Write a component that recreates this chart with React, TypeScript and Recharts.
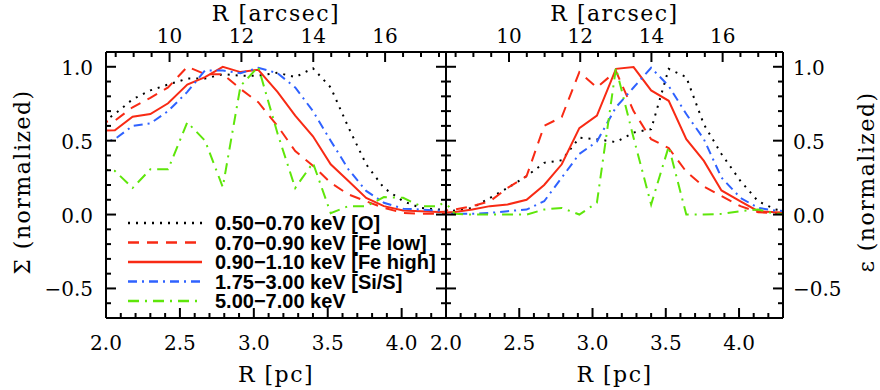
import React from "react";
import { LineChart, Line, XAxis, YAxis, Legend } from "recharts";

// radius of each profile bin, pc (bins are 0.5 arcsec apart)
const radiusPc = [
  1.94, 2.06, 2.18, 2.3, 2.42, 2.55, 2.67, 2.79, 2.91, 3.03, 3.16, 3.28, 3.4, 3.52,
  3.64, 3.76, 3.88, 4.01, 4.13, 4.25, 4.37,
];

// surface brightness, normalized (left panel)
const sigmaO = [0.6, 0.68, 0.78, 0.84, 0.88, 0.92, 0.92, 0.95, 0.94, 0.94, 0.96, 0.93, 0.99, 0.86, 0.59, 0.34, 0.18, 0.09, 0.045, 0.034, 0.03];
const sigmaFeLow = [0.62, 0.635, 0.726, 0.79, 0.86, 1.0, 0.95, 0.95, 0.85, 0.76, 0.6, 0.43, 0.33, 0.215, 0.136, 0.09, 0.045, 0.011, 0.005, 0.005, 0.01];
const sigmaFeHigh = [0.565, 0.571, 0.662, 0.68, 0.753, 0.88, 0.93, 1.0, 0.964, 0.98, 0.83, 0.67, 0.53, 0.34, 0.227, 0.113, 0.057, 0.027, 0.023, 0.018, 0.02];
const sigmaSiS = [0.47, 0.51, 0.6, 0.617, 0.7, 0.83, 0.975, 0.975, 0.957, 0.993, 0.957, 0.86, 0.7, 0.5, 0.306, 0.16, 0.08, 0.04, 0.034, 0.027, 0.025];
const sigmaHard = [0.31, 0.295, 0.18, 0.306, 0.306, 0.624, 0.5, 0.186, 0.87, 1.0, 0.55, 0.18, 0.35, 0.01, 0.057, 0.057, 0.118, 0.113, 0.057, 0.057, 0.15];

// emissivity, normalized (right panel)
const epsO = [0.01, 0.027, 0.045, 0.113, 0.18, 0.26, 0.35, 0.367, 0.52, 0.51, 0.49, 0.555, 0.578, 0.986, 0.93, 0.61, 0.41, 0.227, 0.09, 0.034, 0.02];
const epsFeLow = [0.02, 0.034, 0.057, 0.09, 0.18, 0.26, 0.6, 0.66, 0.964, 0.86, 0.97, 0.7, 0.51, 0.45, 0.29, 0.19, 0.125, 0.057, 0.016, 0.01, 0.005];
const epsFeHigh = [0.01, 0.018, 0.034, 0.057, 0.068, 0.1, 0.2, 0.34, 0.585, 0.67, 0.986, 0.998, 0.84, 0.77, 0.51, 0.363, 0.163, 0.09, 0.023, 0.016, 0.01];
const epsSiS = [0.005, 0.005, 0.005, 0.011, 0.023, 0.034, 0.09, 0.25, 0.41, 0.494, 0.726, 0.86, 0.993, 0.87, 0.68, 0.51, 0.25, 0.113, 0.045, 0.027, 0.02];
const epsHard = [0.15, 0.005, 0.0, 0.0, 0.0, 0.0, 0.034, 0.045, 0.0, 0.08, 0.993, 0.52, 0.068, 0.46, 0.0, 0.0, 0.005, 0.023, 0.034, 0.005, 0.0];

// axes
const pcDomain = [2.0, 4.3];
const yDomain = [-0.7, 1.1];
const pcMajor = [2.0, 2.5, 3.0, 3.5, 4.0];
const arcsecMajor = [10, 12, 14, 16];
const yMajor = [-0.5, 0.0, 0.5, 1.0];
const PC_PER_ARCSEC = 0.243;

const bands = [
  { key: "o", name: "0.50\u22120.70 keV [O]", color: "#000000", dash: "2 6" },
  { key: "feLow", name: "0.70\u22120.90 keV [Fe low]", color: "#f82a14", dash: "11 8" },
  { key: "feHigh", name: "0.90\u22121.10 keV [Fe high]", color: "#f82a14", dash: undefined },
  { key: "siS", name: "1.75\u22123.00 keV [Si/S]", color: "#2f62ff", dash: "9 5 2 5" },
  { key: "hard", name: "5.00\u22127.00 keV", color: "#5ee60a", dash: "11 6 2 6" },
];

const sigmaData = radiusPc.map((r, i) => ({
  r,
  o: sigmaO[i],
  feLow: sigmaFeLow[i],
  feHigh: sigmaFeHigh[i],
  siS: sigmaSiS[i],
  hard: sigmaHard[i],
}));

const epsData = radiusPc.map((r, i) => ({
  r,
  o: epsO[i],
  feLow: epsFeLow[i],
  feHigh: epsFeHigh[i],
  siS: epsSiS[i],
  hard: epsHard[i],
}));

// tick positions between the ends of a range
function steps(from: number, to: number, step: number) {
  const out: number[] = [];
  for (let v = from; v <= to + 1e-9; v += step) out.push(Math.round(v * 100) / 100);
  return out;
}

const pcTicks = steps(2.1, 4.2, 0.1).concat([2.0]);
// top axis shares the pc scale, ticks placed at whole/half arcsec
const arcTicks = steps(8.5, 17.5, 0.5).map((a) => a * PC_PER_ARCSEC);
const arcMajorPc = arcsecMajor.map((a) => a * PC_PER_ARCSEC);
const yTicks = steps(-0.6, 1.0, 0.1);

const FONT = "'DejaVu Serif', serif";
const AXIS = { stroke: "#000", strokeWidth: 2 };

type Side = "left" | "right" | "top" | "bottom";

// IDL style: ticks point inward, long at major values
function makeTick(side: Side, majors: number[], labels: boolean, fmt: (v: number) => string) {
  return (props: any) => {
    const { x, y, payload } = props;
    const v = payload.value;
    const major = majors.some((m) => Math.abs(m - v) < 1e-6);
    const len = major ? 10 : 5;
    let x2 = x;
    let y2 = y;
    let tx = x;
    let ty = y;
    let anchor: "start" | "middle" | "end" = "middle";
    if (side === "left") { x2 = x + len; tx = x - 13; ty = y + 8; anchor = "end"; }
    if (side === "right") { x2 = x - len; tx = x + 10; ty = y + 8; anchor = "start"; }
    if (side === "bottom") { y2 = y - len; ty = y + 32; }
    if (side === "top") { y2 = y + len; ty = y - 9; }
    return (
      <g>
        <line x1={x} y1={y} x2={x2} y2={y2} stroke="#000" strokeWidth={2} />
        {major && labels ? (
          <text x={tx} y={ty} textAnchor={anchor} fontFamily={FONT} fontSize={20} fill="#000">
            {fmt(v)}
          </text>
        ) : null}
      </g>
    );
  };
}

const fmt1 = (v: number) => (v < 0 ? "\u2212" + Math.abs(v).toFixed(1) : v.toFixed(1));
const fmtArc = (v: number) => String(Math.round(v / PC_PER_ARCSEC));

function title(text: string, where: "top" | "bottom" | "left" | "right") {
  return {
    content: (p: any) => {
      const vb = p.viewBox || {};
      const style = { fontFamily: FONT, fontSize: 22, letterSpacing: 1.5, fill: "#000" };
      if (where === "top")
        return <text x={vb.x + vb.width / 2} y={vb.y + 21} textAnchor="middle" {...style}>{text}</text>;
      if (where === "bottom")
        return <text x={vb.x + vb.width / 2} y={vb.y + 64} textAnchor="middle" {...style}>{text}</text>;
      const cx = where === "left" ? vb.x + 22 : vb.x + 83;
      const cy = vb.y + vb.height / 2 - 3;
      return (
        <text x={0} y={0} dy="0.35em" textAnchor="middle" transform={`translate(${cx},${cy}) rotate(-90)`} {...style}>
          {text}
        </text>
      );
    },
  };
}

function LegendBox() {
  return (
    <svg width={340} height={104}>
      {bands.map((b, i) => {
        const cy = 13 + i * 19.5;
        return (
          <g key={b.key}>
            <line x1={8} y1={cy} x2={82} y2={cy} stroke={b.color} strokeWidth={2.5} strokeDasharray={b.dash} />
            <text x={95} y={cy + 7} fontFamily="'Liberation Sans', Arial, sans-serif" fontWeight="bold" fontSize={20} fill="#000">
              {b.name}
            </text>
          </g>
        );
      })}
    </svg>
  );
}

function Series() {
  return bands.map((b) => (
    <Line
      key={b.key}
      xAxisId="pc"
      yAxisId="l"
      type="linear"
      dataKey={b.key}
      name={b.name}
      stroke={b.color}
      strokeWidth={2}
      strokeDasharray={b.dash}
      dot={false}
      activeDot={false}
      isAnimationActive={false}
    />
  ));
}

function XAxes() {
  return [
    <XAxis
      key="pc"
      xAxisId="pc"
      dataKey="r"
      type="number"
      domain={pcDomain}
      allowDataOverflow
      ticks={pcTicks}
      interval={0}
      height={72}
      axisLine={AXIS}
      tickLine={false}
      tickSize={0}
      tickMargin={0}
      tick={makeTick("bottom", pcMajor, true, fmt1)}
      label={title("R [pc]", "bottom")}
    />,
    <XAxis
      key="arc"
      xAxisId="arc"
      dataKey="r"
      orientation="top"
      type="number"
      domain={pcDomain}
      allowDataOverflow
      ticks={arcTicks}
      interval={0}
      height={52}
      axisLine={AXIS}
      tickLine={false}
      tickSize={0}
      tickMargin={0}
      tick={makeTick("top", arcMajorPc, true, fmtArc)}
      label={title("R [arcsec]", "top")}
    />,
  ];
}

export default function App() {
  return (
    <div style={{ position: "absolute", left: 0, top: 0, width: 880, height: 390, background: "#fff" }}>
      <div style={{ position: "absolute", left: 0, top: 0 }}>
        <LineChart width={480} height={390} data={sigmaData} margin={{ top: 0, right: 24, bottom: 0, left: 0 }}>
          {XAxes()}
          <YAxis
            yAxisId="l"
            type="number"
            domain={yDomain}
            allowDataOverflow
            ticks={yTicks}
            interval={0}
            width={106}
            axisLine={AXIS}
            tickLine={false}
            tickSize={0}
            tickMargin={0}
            tick={makeTick("left", yMajor, true, fmt1)}
            label={title("\u03a3 (normalized)", "left")}
          />
          <YAxis
            yAxisId="r"
            orientation="right"
            type="number"
            domain={yDomain}
            allowDataOverflow
            ticks={yTicks}
            interval={0}
            width={10}
            axisLine={AXIS}
            tickLine={false}
            tickSize={0}
            tickMargin={0}
            tick={makeTick("right", yMajor, false, fmt1)}
          />
          {Series()}
          <Legend
            layout="horizontal"
            verticalAlign="middle"
            align="center"
            content={<LegendBox />}
            wrapperStyle={{ left: 120, top: 210, width: 340, height: 104 }}
          />
        </LineChart>
      </div>
      <div style={{ position: "absolute", left: 420, top: 0 }}>
        <LineChart width={460} height={390} data={epsData} margin={{ top: 0, right: 0, bottom: 0, left: 16 }}>
          {XAxes()}
          <YAxis
            yAxisId="l"
            type="number"
            domain={yDomain}
            allowDataOverflow
            ticks={yTicks}
            interval={0}
            width={10}
            axisLine={AXIS}
            tickLine={false}
            tickSize={0}
            tickMargin={0}
            tick={makeTick("left", yMajor, false, fmt1)}
          />
          <YAxis
            yAxisId="r"
            orientation="right"
            type="number"
            domain={yDomain}
            allowDataOverflow
            ticks={yTicks}
            interval={0}
            width={97}
            axisLine={AXIS}
            tickLine={false}
            tickSize={0}
            tickMargin={0}
            tick={makeTick("right", yMajor, true, fmt1)}
            label={title("\u03b5 (normalized)", "right")}
          />
          {Series()}
        </LineChart>
      </div>
    </div>
  );
}
